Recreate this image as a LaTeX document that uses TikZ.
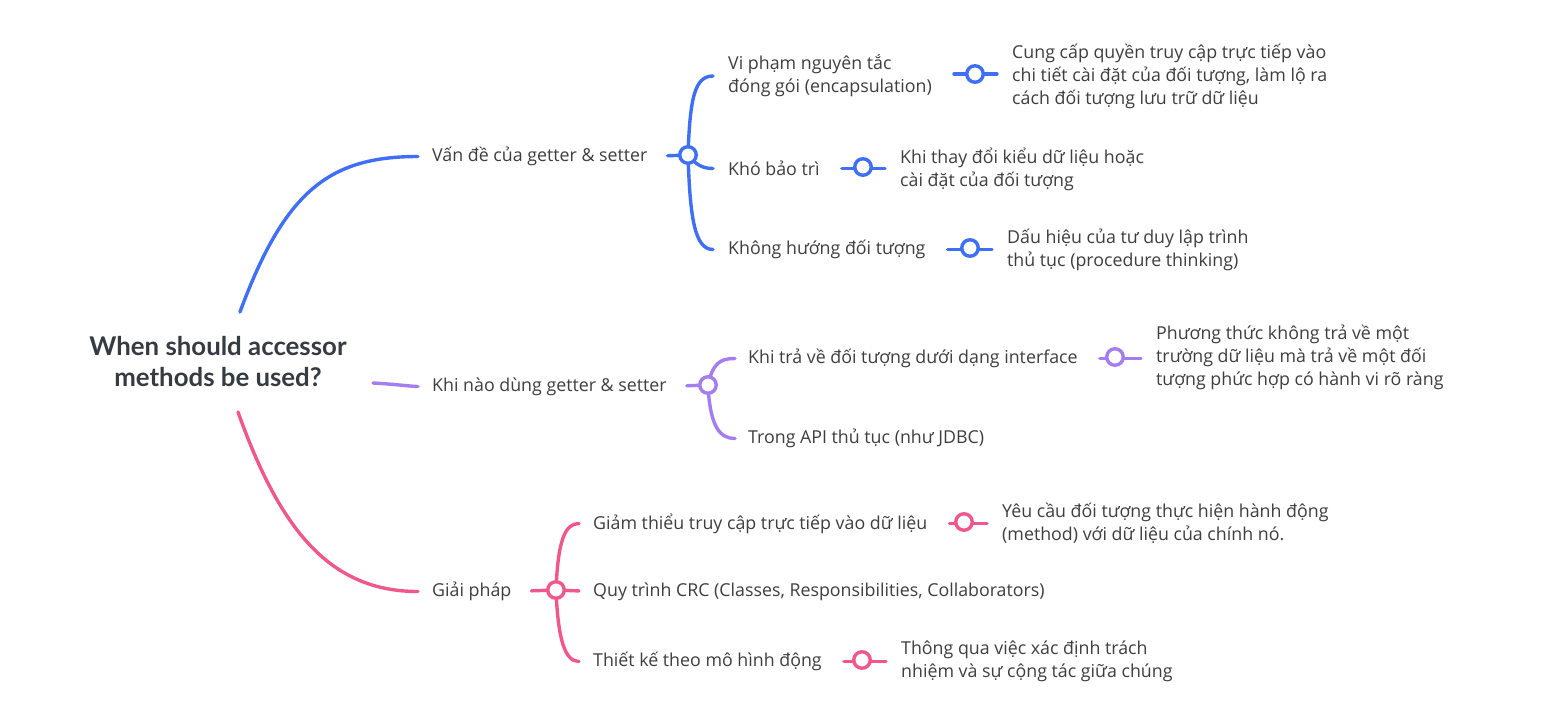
\documentclass[tikz,border=0pt]{standalone}
\usepackage{fontspec}
\setmainfont{Open Sans}
\newfontfamily\titlefont{Lato}
\usetikzlibrary{positioning}
\usetikzlibrary{backgrounds}

\definecolor{mapBlue}{HTML}{3F6FF5}
\definecolor{mapPurple}{HTML}{A47DF0}
\definecolor{mapPink}{HTML}{F0588C}
\definecolor{mapText}{HTML}{3E3E3E}
\definecolor{mapTitle}{HTML}{353B41}

\tikzset{
  topic/.style={anchor=west, inner sep=0pt, text=mapText, align=left, yshift=-1.5pt,
                font=\fontsize{17.8}{23}\selectfont},
  jct/.style={circle, draw=#1, line width=3.4pt, fill=white, inner sep=0pt, minimum size=16.5pt},
  wire/.style={draw=#1, line width=3.4pt, line cap=round},
}

\begin{document}
\begin{tikzpicture}[x=1pt, y=-1pt]
  \useasboundingbox (0,0) rectangle (1553,716);

  \node[align=center, text=mapTitle, font=\titlefont\bfseries\fontsize{25.8}{31}\selectfont]
       (root) at (218,362) {When should accessor\\methods be used?};
  \coordinate (rootUp) at (240,312);
  \coordinate (rootMid) at (373,383);
  \coordinate (rootDown) at (238,412);

  % Van de cua getter & setter
  \node[topic] (vande) at (432,155) {Vấn đề của getter \& setter};
  \node[jct=mapBlue] (jVande) at (688,155) {};
  \node[topic] (vipham) at (728,74.5) {Vi phạm nguyên tắc\\đóng gói (encapsulation)};
  \node[topic] (khobt) at (728,167) {Khó bảo trì};
  \node[topic] (khonghd) at (728,248) {Không hướng đối tượng};
  \node[topic] (cungcap) at (1012,75) {Cung cấp quyền truy cập trực tiếp vào\\chi tiết cài đặt của đối tượng, làm lộ ra\\cách đối tượng lưu trữ dữ liệu};
  \node[topic] (khithay) at (900,167.5) {Khi thay đổi kiểu dữ liệu hoặc\\cài đặt của đối tượng};
  \node[topic] (dauhieu) at (1007,248.5) {Dấu hiệu của tư duy lập trình\\thủ tục (procedure thinking)};
  \node[jct=mapBlue] (mVipham) at (975,74) {};
  \node[jct=mapBlue] (mKhobt) at (863,167) {};
  \node[jct=mapBlue] (mKhonghd) at (970,248) {};

  % Khi nao dung getter & setter
  \node[topic] (khinao) at (432,385) {Khi nào dùng getter \& setter};
  \node[jct=mapPurple] (jKhinao) at (708,385) {};
  \node[topic] (khitra) at (748,357) {Khi trả về đối tượng dưới dạng interface};
  \node[topic] (trongapi) at (748,437) {Trong API thủ tục (như JDBC)};
  \node[topic] (phuongthuc) at (1156,356) {Phương thức không trả về một\\trường dữ liệu mà trả về một đối\\tượng phức hợp có hành vi rõ ràng};
  \node[jct=mapPurple] (mKhitra) at (1115,357) {};

  % Giai phap
  \node[topic] (giaiphap) at (432,590) {Giải pháp};
  \node[jct=mapPink] (jGiai) at (556,590) {};
  \node[topic] (giam) at (593,522) {Giảm thiểu truy cập trực tiếp vào dữ liệu};
  \node[topic] (quytrinh) at (593,590) {Quy trình CRC (Classes, Responsibilities, Collaborators)};
  \node[topic] (thietke) at (593,660) {Thiết kế theo mô hình động};
  \node[topic] (yeucau) at (1002,522) {Yêu cầu đối tượng thực hiện hành động\\(method) với dữ liệu của chính nó.};
  \node[topic] (thongqua) at (901,660) {Thông qua việc xác định trách\\nhiệm và sự cộng tác giữa chúng};
  \node[jct=mapPink] (mGiam) at (964,522) {};
  \node[jct=mapPink] (mThietke) at (862,660) {};

  \begin{pgfonlayer}{background}
    \fill[white] (0,0) rectangle (1553,716);
    \draw[wire=mapBlue, shorten >=14pt] (rootUp) .. controls +(45,-122) and +(-102,0) .. (vande.west);
    \draw[wire=mapPurple, shorten >=14pt] (rootMid) .. controls +(20,1) and +(-20,0) .. (khinao.west);
    \draw[wire=mapPink, shorten >=14pt] (rootDown) .. controls +(42,118) and +(-102,0) .. (giaiphap.west);

    \draw[wire=mapBlue, shorten <=20pt] (vande.east) -- (jVande.center);
    \draw[wire=mapBlue, shorten >=15pt] (jVande.center) .. controls +(2,-55) and +(-34,0) .. (vipham.west);
    \draw[wire=mapBlue, shorten >=15pt] (jVande.center) .. controls +(8,10) and +(-25,0) .. (khobt.west);
    \draw[wire=mapBlue, shorten >=15pt] (jVande.center) .. controls +(2,60) and +(-34,0) .. (khonghd.west);
    \draw[wire=mapBlue, shorten <=22pt, shorten >=15pt] (vipham.east |- mVipham) -- (cungcap.west |- mVipham);
    \draw[wire=mapBlue, shorten <=22pt, shorten >=15pt] (khobt.east) -- (khithay.west |- khobt);
    \draw[wire=mapBlue, shorten <=22pt, shorten >=15pt] (khonghd.east) -- (dauhieu.west |- khonghd);

    \draw[wire=mapPurple, shorten <=20pt] (khinao.east) -- (jKhinao.center);
    \draw[wire=mapPurple, shorten >=13pt] (jKhinao.center) .. controls +(5,-22) and +(-28,0) .. (khitra.west);
    \draw[wire=mapPurple, shorten >=13pt] (jKhinao.center) .. controls +(2,42) and +(-28,0) .. (trongapi.west);
    \draw[wire=mapPurple, shorten <=22pt, shorten >=15pt] (khitra.east) -- (phuongthuc.west |- khitra);

    \draw[wire=mapPink, shorten <=20pt] (giaiphap.east) -- (jGiai.center);
    \draw[wire=mapPink, shorten >=14pt] (jGiai.center) .. controls +(2,-50) and +(-28,0) .. (giam.west);
    \draw[wire=mapPink, shorten >=14pt] (jGiai.center) -- (quytrinh.west);
    \draw[wire=mapPink, shorten >=14pt] (jGiai.center) .. controls +(2,50) and +(-28,0) .. (thietke.west);
    \draw[wire=mapPink, shorten <=22pt, shorten >=15pt] (giam.east) -- (yeucau.west |- giam);
    \draw[wire=mapPink, shorten <=22pt, shorten >=15pt] (thietke.east) -- (thongqua.west |- thietke);
  \end{pgfonlayer}
\end{tikzpicture}
\end{document}
